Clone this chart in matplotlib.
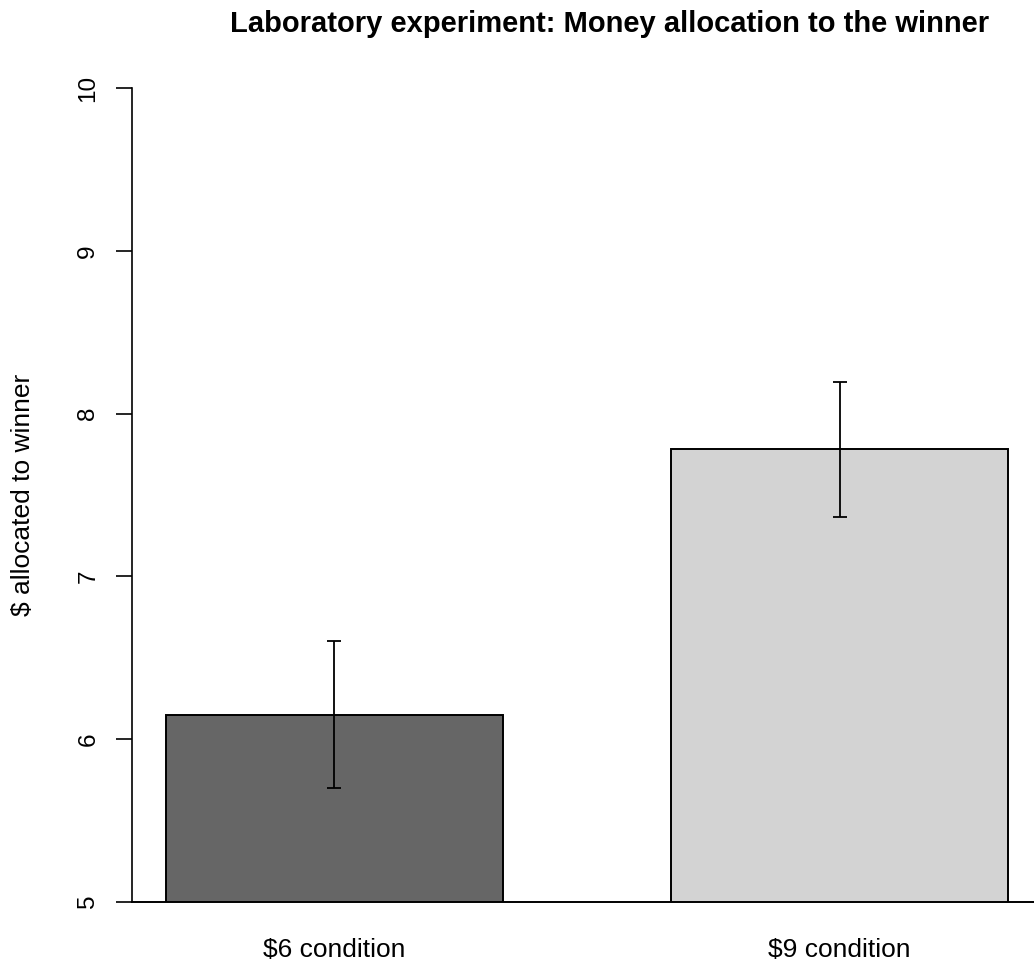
import matplotlib
matplotlib.use("Agg")
from matplotlib import pyplot as plt
import numpy as np

plt.rcParams['font.family'] = ['Liberation Sans', 'DejaVu Sans']

# bar means and standard errors for each condition
conditions = ["$6 condition", "$9 condition"]
means = [6.15, 7.78]
errors = [0.45, 0.415]
colors = ["#666666", "#d3d3d3"]
yticks = [5, 6, 7, 8, 9, 10]

W, H = 1034, 964
fig = plt.figure(figsize=(W / 100, H / 100), dpi=100)

# plot region in pixels
left, right, top, bottom = 132, 1034, 88.2, 901.7
ax = fig.add_axes([left / W, (H - bottom) / H, (right - left) / W, (bottom - top) / H])

xpos = np.array([1.0, 2.5])   # bar width 1, space 0.5
ax.bar(xpos, means, width=1.0, color=colors, edgecolor="black", linewidth=1.4)
ax.errorbar(xpos, means, yerr=errors, fmt="none", ecolor="black",
            elinewidth=1.3, capsize=5.3, capthick=1.3)

ax.set_xlim(0.4, 0.4 + (right - left) / 337.0)
ax.set_ylim(5, 10)
ax.set_yticks(yticks)
ax.set_yticklabels([str(t) for t in yticks], rotation=90, va="center", fontsize=17.5)
ax.tick_params(axis="y", length=11.5, width=1.2, pad=12)
ax.set_xticks([])

ax.spines["top"].set_visible(False)
ax.spines["right"].set_visible(False)
ax.spines["left"].set_bounds(5, 10)
ax.spines["left"].set_linewidth(1.2)
ax.spines["bottom"].set_linewidth(1.4)

# category names under the bars
for xp, name in zip(xpos, conditions):
    fig.text(ax.transData.transform((xp, 5))[0] / W, 1 - 950 / H, name,
             ha="center", va="center", fontsize=19)

fig.text(23 / W, 1 - 495 / H, "$ allocated to winner", rotation=90,
         ha="center", va="center", fontsize=19)
fig.text(610 / W, 1 - 24 / H, "Laboratory experiment: Money allocation to the winner",
         ha="center", va="center", fontsize=21, fontweight="bold")

fig.savefig("out.png", dpi=100)
